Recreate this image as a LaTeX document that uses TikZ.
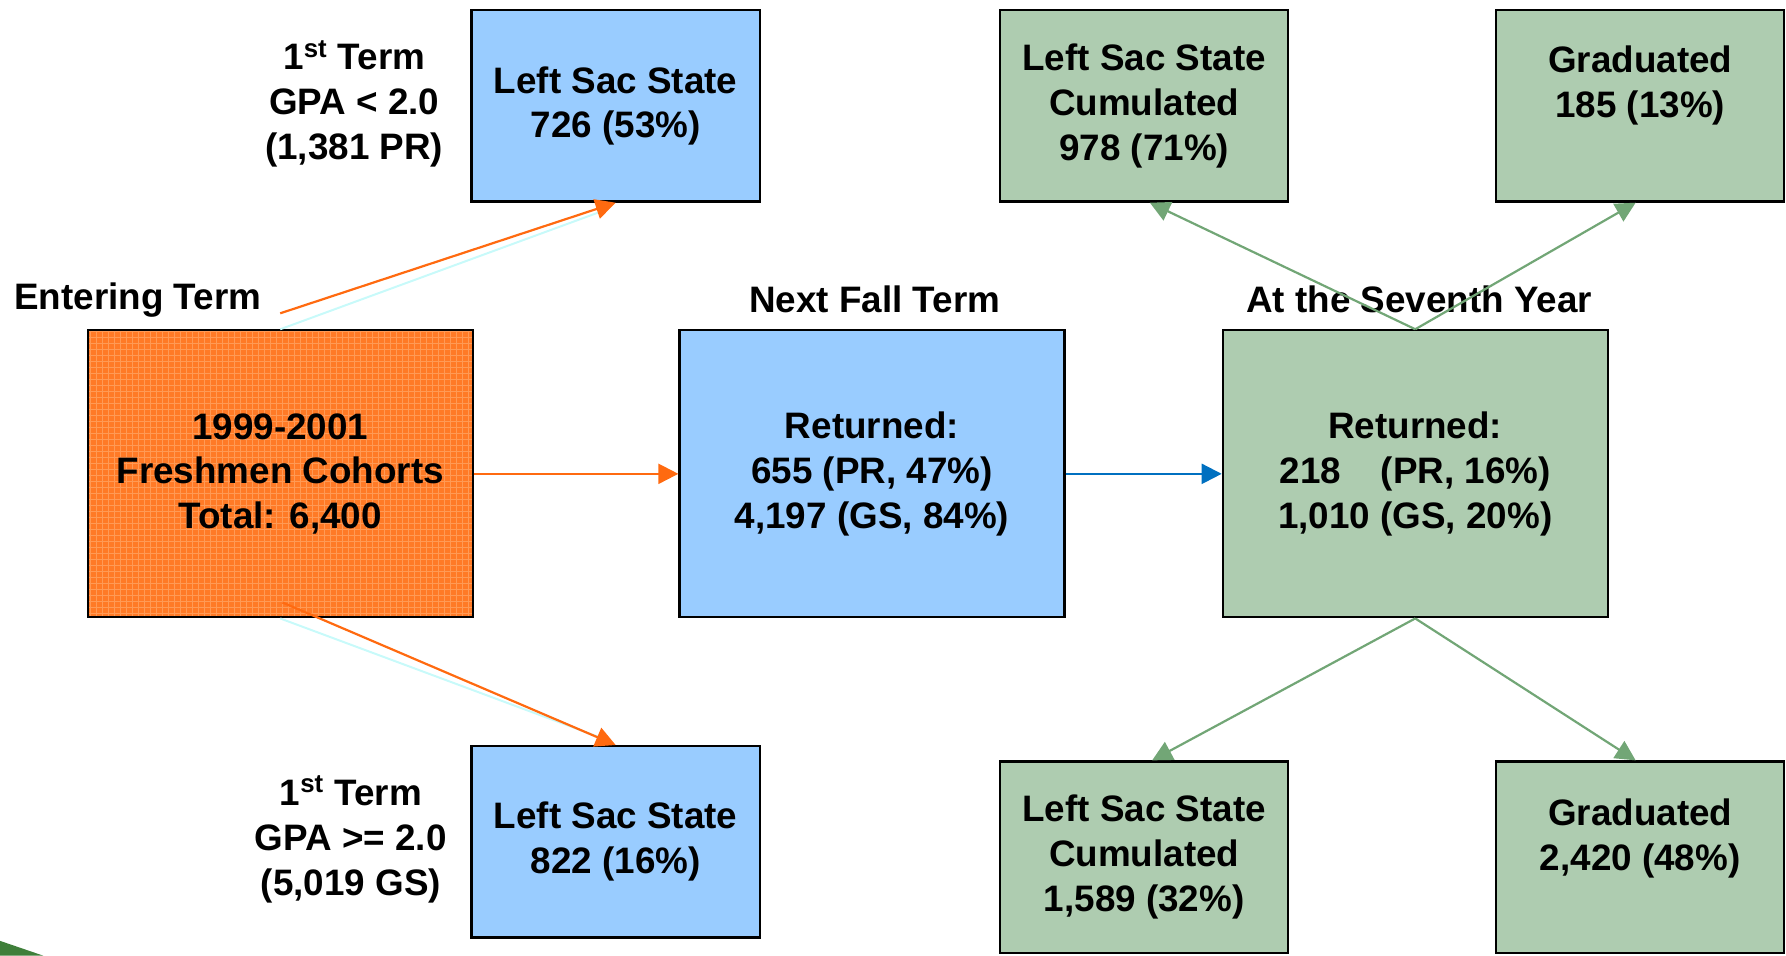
\documentclass[tikz,border=0pt]{standalone}
\usepackage{fontspec}
\setmainfont{Liberation Sans}
\usetikzlibrary{arrows.meta,calc,patterns}
\definecolor{boxblue}{HTML}{99CCFF}
\definecolor{boxgreen}{HTML}{AECCB0}
\definecolor{arrgreen}{HTML}{72A676}
\definecolor{boxorange}{HTML}{FF7A26}
\definecolor{gridorange}{HTML}{FF9A55}
\definecolor{arrorange}{HTML}{FF6A10}
\definecolor{arrblue}{HTML}{0070C0}
\definecolor{shadowcyan}{HTML}{C8FAFA}
\definecolor{cornergreen}{HTML}{3F7F3A}
\begin{document}
\begin{tikzpicture}[x=0.02cm,y=-0.02cm,
  every node/.style={font=\bfseries\fontsize{18.4}{22.4}\selectfont, align=center, inner sep=0pt},
  boxbase/.style={draw=black, line width=1.1pt},
  smallbox/.style={boxbase, minimum width=5.06cm, minimum height=3.36cm},
  largebox/.style={boxbase, minimum width=6.76cm, minimum height=5.04cm},
  bluebox/.style={fill=boxblue},
  greenbox/.style={fill=boxgreen},
  orangebox/.style={preaction={fill=boxorange}, pattern=grid, pattern color=gridorange},
  orarrow/.style={draw=arrorange, line width=1.1pt, -{Triangle[length=10pt,width=10pt]}},
  blarrow/.style={draw=arrblue, line width=1.1pt, -{Triangle[length=10pt,width=10pt]}},
  grarrow/.style={draw=arrgreen, line width=1.1pt, -{Triangle[length=10pt,width=10pt]}},
  shadowline/.style={draw=shadowcyan, line width=1pt},
]
\useasboundingbox (0,0) rectangle (1568,839);
\fill[cornergreen] (0,826) -- (38,839) -- (0,839) -- cycle;

% boxes
\node[largebox, orangebox] (ob) at (246,416) {1999-2001\\Freshmen Cohorts\\Total: 6,400};
\node[smallbox, bluebox] (bt) at (540.5,93) {Left Sac State\\726 (53\%)};
\node[smallbox, bluebox] (bb) at (540.5,739) {Left Sac State\\822 (16\%)};
\node[largebox, bluebox] (mb) at (765.5,416) {Returned:\\655 (PR, 47\%)\\4,197 (GS, 84\%)};
\node[largebox, greenbox] (gm) at (1242.5,416) {Returned:\\218\hspace{0.8em}\ (PR, 16\%)\\1,010 (GS, 20\%)};
\node[smallbox, greenbox] (gtl) at (1004.5,93) {Left Sac State\\Cumulated\\978 (71\%)};
\node[smallbox, greenbox] (gtr) at (1440,93) {};
\node (gtrt) at (1440,75) {Graduated\\185 (13\%)};
\node[smallbox, greenbox] (gbl) at (1004.5,752.5) {Left Sac State\\Cumulated\\1,589 (32\%)};
\node[smallbox, greenbox] (gbr) at (1440,752.5) {};
\node (gbrt) at (1440,736) {Graduated\\2,420 (48\%)};

% labels
\node (lent) at (121,263) {Entering Term};
\node (lnext) at (768,263) {Next Fall Term};
\node (lseven) at (1246,263) {At the Seventh Year};
\node (lgpa1) at (311,91) {1\textsuperscript{st} Term\\GPA < 2.0\\(1,381 PR)};
\node (lgpa2) at (308,737) {1\textsuperscript{st} Term\\GPA >= 2.0\\(5,019 GS)};

% connectors
\draw[shadowline] (ob.north) -- ($(bt.south)+(-8,6)$);
\draw[orarrow] ($(ob.north)+(0,-14)$) -- (bt.south);
\draw[shadowline] (ob.south) -- ($(bb.north)+(-12,-6)$);
\draw[orarrow] ($(ob.south)+(2,-14)$) -- (bb.north);
\draw[orarrow] (ob.east) -- (mb.west);
\draw[blarrow] (mb.east) -- (gm.west);
\draw[grarrow] (gm.north) -- ($(gtl.south)+(5,0)$);
\draw[grarrow] (gm.north) -- ($(gtr.south)+(-4,0)$);
\draw[grarrow] (gm.south) -- ($(gbl.north)+(7,0)$);
\draw[grarrow] (gm.south) -- ($(gbr.north)+(-4,0)$);
\end{tikzpicture}
\end{document}
